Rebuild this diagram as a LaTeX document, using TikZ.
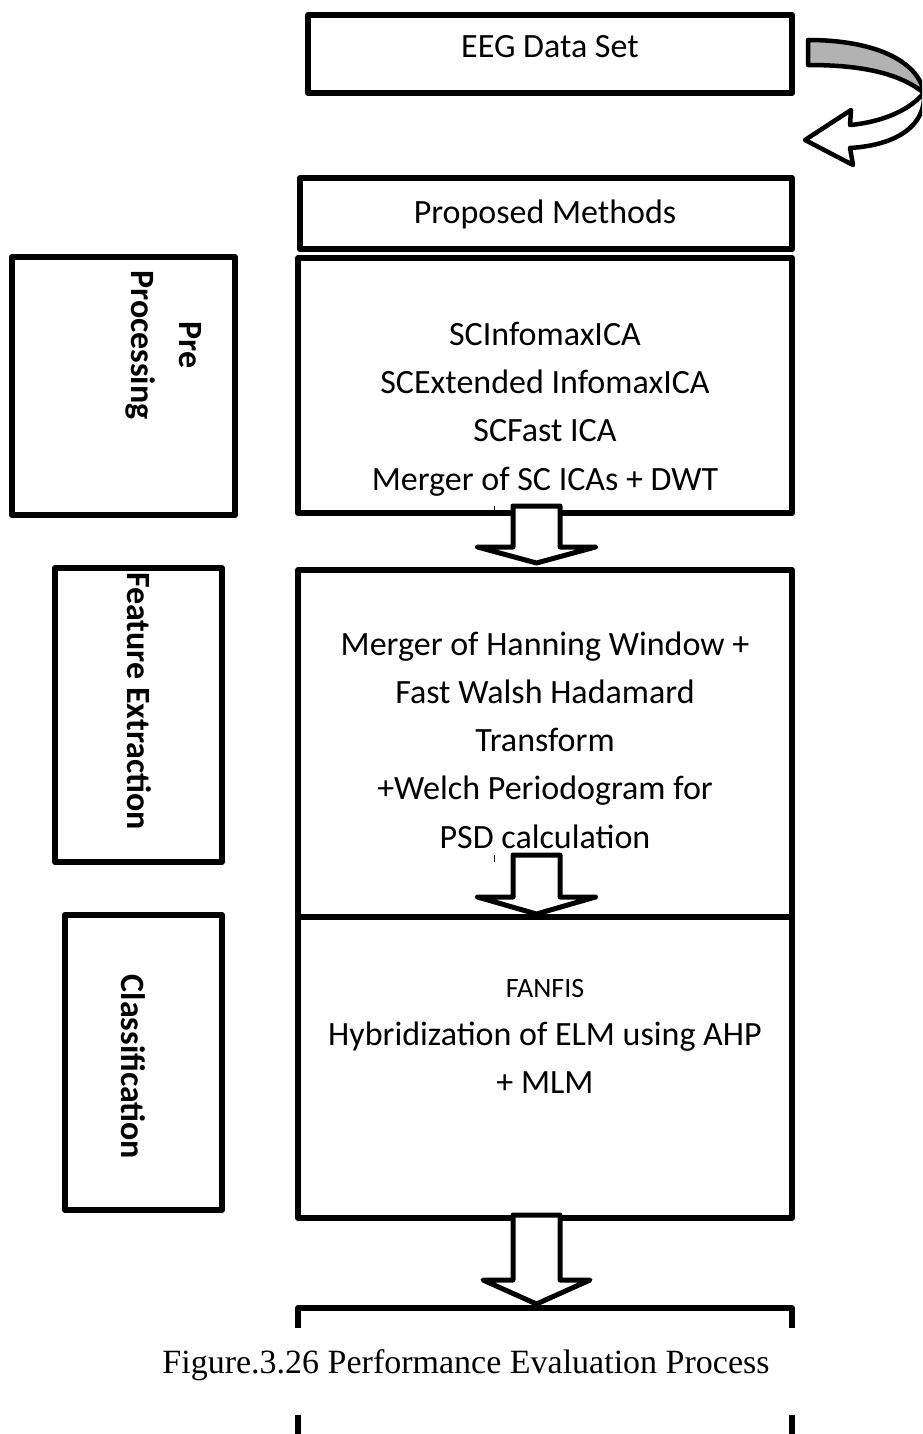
\documentclass[tikz,border=0pt]{standalone}
\usepackage{fontspec}
\setmainfont{Carlito}
\newfontfamily\captionserif{Liberation Serif}
\usetikzlibrary{calc}
\tikzset{
  box/.style={draw=black, line width=6pt, line join=round, fill=white, inner sep=0pt},
  body/.style={font=\fontsize{34}{40}\selectfont, anchor=base, inner sep=0pt},
  small/.style={font=\fontsize{28}{34}\selectfont, anchor=base, inner sep=0pt},
  side/.style={font=\fontsize{34}{48}\selectfont\bfseries, rotate=-90, align=center, inner sep=0pt},
  blockarrow/.style={draw=black, line width=5pt, fill=white, line join=round},
  tickline/.style={draw=black, line width=0.9pt},
  turnarrow/.style={draw=black, line width=4.5pt, line join=round},
}
% down-pointing block arrow: #1 shaft top, #2 tip, #3 half shaft width,
% #4 half head width, #5 head length
\newcommand\blkarrow[5]{%
  \draw[blockarrow] let \p1=(#1), \p2=(#2) in
    (\x1-#3pt,\y1) -- (\x1-#3pt,\y2+#5pt) -- (\x1-#4pt,\y2+#5pt) -- (\x1,\y2)
    -- (\x1+#4pt,\y2+#5pt) -- (\x1+#3pt,\y2+#5pt) -- (\x1+#3pt,\y1) -- cycle;}
\begin{document}
\begin{tikzpicture}[x=1pt,y=-1pt]
\useasboundingbox (0,0) rectangle (922,1434);
\clip (0,0) rectangle (922,1434);
\fill[white] (0,0) rectangle (922,1434);

% main column
\node[box, minimum width=484pt, minimum height=78pt] (eeg) at (550,54) {};
\node[body] (eegt) at (550,58) {EEG Data Set};

\node[box, minimum width=492pt, minimum height=71pt] (pm) at (546,213.5) {};
\node[body] (pmt) at (545,223) {Proposed Methods};

\node[box, minimum width=494pt, minimum height=255pt] (sc) at (545,385.5) {};
\node[body] (sc1) at (545,345) {SCInfomaxICA};
\node[body] (sc2) at (545,393.3) {SCExtended InfomaxICA};
\node[body] (sc3) at (545,441.6) {SCFast ICA};
\node[body] (sc4) at (545,490) {Merger of SC ICAs + DWT};

\node[box, minimum width=494pt, minimum height=347pt] (fe) at (545,743.5) {};
\node[body] (fe1) at (545,655) {Merger of Hanning Window +};
\node[body] (fe2) at (545,703.3) {Fast Walsh Hadamard};
\node[body] (fe3) at (545,751.6) {Transform};
\node[body] (fe4) at (545,799.9) {+Welch Periodogram for};
\node[body] (fe5) at (545,848.2) {PSD calculation};

\node[box, minimum width=494pt, minimum height=301pt] (cl) at (545,1067.5) {};
\node[small] (cl1) at (545,997) {FANFIS};
\node[body] (cl2) at (545,1045) {Hybridization of ELM using AHP};
\node[body] (cl3) at (545,1093) {+ MLM};

\node[box, minimum width=494pt, minimum height=200pt] (ev) at (545,1408) {};

% side labels
\node[box, minimum width=223pt, minimum height=258pt] (lpre) at (123.5,386) {};
\node[side] (lpret) at (164,345) {Pre\\Processing};

\node[box, minimum width=167pt, minimum height=294pt] (lfe) at (138.5,715) {};
\node[side] (lfet) at (139,701) {Feature Extraction};

\node[box, minimum width=157pt, minimum height=295pt] (lcl) at (143.5,1062.5) {};
\node[side] (lclt) at (133,1067) {Classification};

% block arrows between the stages
\blkarrow{$(sc.south)+(-8.5,-10)$}{$(fe.north)+(-8.5,-4)$}{23.5}{59}{16}
\blkarrow{$(fe.south)+(-8.5,-65)$}{$(cl.north)+(-8.5,0)$}{23.5}{59}{17}
\blkarrow{$(cl.south)+(-8.5,-6)$}{$(ev.north)+(-8.5,-1)$}{23.5}{53.5}{24}

% small marks beside the arrow shafts
\draw[tickline] ($(sc.south)+(-51,-10)$) -- ($(sc.south)+(-51,-2)$);
\draw[tickline] ($(fe.south)+(-51,-65)$) -- ($(fe.south)+(-51,-58)$);
\draw[tickline] ($(cl.south)+(-51,-6)$) -- ($(cl.south)+(-51,-1)$);

% curved arrow turning back from the data set box
\begin{scope}[shift={(eeg.east)}]
  \path[turnarrow, fill=black!30]
    (13,-14) .. controls (78,-14) and (123,6) .. (129,39)
    .. controls (103,18) and (63,11) .. (13,11) -- cycle;
  \path[turnarrow, fill=white]
    (129,39) .. controls (131,71) and (103,91) .. (55,94)
    -- (58,111) -- (10,86) -- (56,56) -- (55,71)
    .. controls (88,68) and (113,56) .. (126,42) -- cycle;
\end{scope}

% caption over the last box
\fill[white] (285,1328) rectangle (805,1415);
\node[font=\captionserif\fontsize{34}{40}\selectfont, anchor=base, inner sep=0pt] (cap) at (466,1373)
  {Figure.3.26 Performance Evaluation Process};
\end{tikzpicture}
\end{document}
